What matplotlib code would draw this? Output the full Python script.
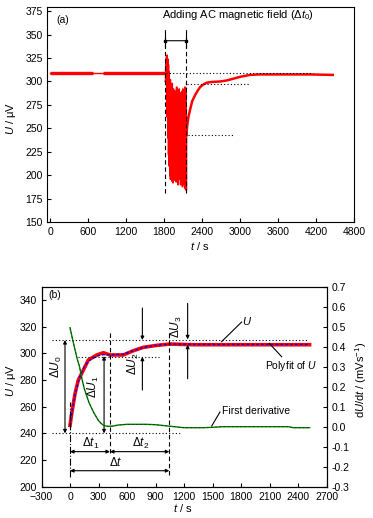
import matplotlib
matplotlib.use("Agg")
import matplotlib.pyplot as plt

plt.rcParams['font.family'] = ['Liberation Sans', 'DejaVu Sans']
plt.rcParams['mathtext.fontset'] = 'custom'
plt.rcParams['mathtext.rm'] = 'Liberation Sans'
plt.rcParams['mathtext.it'] = 'Liberation Sans:italic'
plt.rcParams['font.size'] = 7.5

## ---------------- panel (a) data ----------------
t_base = [0, 1817]
U_base = [309.5, 309.5]
noisy_spans = [(0, 680), (830, 1810)]

t_osc = [1817, 1825, 1835, 1845, 1855, 1865, 1875, 1885, 1895, 1905, 1915,
         1925, 1935, 1945, 1955, 1965, 1975, 1985, 1995, 2005, 2015, 2025,
         2035, 2045, 2055, 2065, 2075, 2085, 2095, 2105, 2115, 2125, 2135,
         2145, 2150]
U_osc_hi = [300, 322, 326, 328, 324, 318, 310, 300, 302, 296, 292, 298, 286,
            292, 284, 290, 282, 288, 294, 280, 290, 285, 292, 276, 288, 282,
            284, 290, 292, 288, 286, 294, 292, 293, 260]
U_osc_lo = [300, 300, 280, 262, 240, 222, 210, 200, 196, 200, 194, 205, 192,
            198, 195, 210, 200, 193, 205, 198, 190, 200, 196, 208, 190, 198,
            200, 188, 192, 200, 190, 186, 188, 184, 243]

t_rec = [2150, 2160, 2180, 2207, 2240, 2286, 2330, 2365, 2420, 2470, 2550,
         2680, 2780, 2890, 3000, 3153, 3300, 3500, 3800, 4100, 4460]
U_rec = [243, 252, 262, 270, 279, 285.5, 290.5, 294, 297, 298.7, 299.5,
         300, 301, 303, 305, 307, 307.5, 307.5, 307.5, 307.5, 307]

## ---------------- panel (b) data ----------------
t_U = [0, 18, 53, 87, 140, 192, 281, 350, 420, 560, 666, 770, 910, 1050,
       1300, 1600, 2000, 2300, 2520]
U_b = [246, 255, 270, 280, 287.5, 295, 298.8, 300.5, 298.8, 298.8, 302,
       304.5, 306, 307, 306.5, 306.5, 306.5, 306.5, 306.5]

t_fit = [0, 25, 50, 100, 150, 200, 280, 350, 450, 560, 666, 770, 910, 1050,
         1300, 1600, 2000, 2520]
U_fit = [246, 258, 268, 282, 290, 294.5, 298, 299, 299, 299.5, 302, 304.5,
         306, 307, 306.8, 306.7, 306.7, 306.7]

t_der = [0, 25, 50, 75, 100, 125, 150, 175, 200, 225, 250, 275, 300, 330,
         360, 400, 450, 500, 600, 700, 800, 900, 1000, 1100, 1200, 1400,
         1500, 1600, 2000, 2300, 2350, 2520]
dUdt = [0.495, 0.44, 0.39, 0.34, 0.30, 0.24, 0.19, 0.155, 0.12, 0.095, 0.07,
        0.05, 0.03, 0.015, 0.005, 0.002, 0.003, 0.008, 0.012, 0.012, 0.012,
        0.01, 0.005, 0.0, -0.005, -0.005, -0.003, 0.0, 0.0, 0.0, -0.005,
        -0.005]

dotted = (0, (1, 2))
dashed = (0, (4, 2.5))


def arrow(ax, x0, y0, x1, y1, style='-|>'):
    ax.annotate('', xy=(x1, y1), xytext=(x0, y0),
                arrowprops=dict(arrowstyle=style, color='k', lw=0.8,
                                mutation_scale=5, shrinkA=0, shrinkB=0))


fig = plt.figure(figsize=(3.73, 5.18), dpi=100)

## ================= panel (a) =================
ax = fig.add_axes([0.1273, 0.5708, 0.8225, 0.4151])

ax.plot(t_base, U_base, color='red', lw=1.0)
for a, b in noisy_spans:
    ax.plot([a, b], [U_base[0], U_base[0]], color='red', lw=2.4,
            solid_capstyle='butt')

# oscillation while the AC field is on: zig-zag between read envelopes
t_zig = []
U_zig = []
for t, hi, lo in zip(t_osc, U_osc_hi, U_osc_lo):
    t_zig += [t, t + 2.5]
    U_zig += [hi, lo]
ax.plot(t_zig, U_zig, color='red', lw=1.2)
ax.plot(t_rec, U_rec, color='red', lw=1.8)

ax.plot([1817, 1817], [181, 356.6], color='k', ls=dashed, lw=0.8)
ax.plot([2149, 2149], [181, 356.6], color='k', ls=dashed, lw=0.8)
arrow(ax, 1817, 343.4, 2149, 343.4, '|-|')
ax.plot([1817, 2149], [343.4, 343.4], 's', color='k', ms=2)
ax.plot([1820, 4150], [309.5, 309.5], color='k', ls=dotted, lw=0.8)
ax.plot([2155, 3145], [297, 297], color='k', ls=dotted, lw=0.8)
ax.plot([2175, 2907], [242.6, 242.6], color='k', ls=dotted, lw=0.8)

ax.text(90, 366, '(a)', ha='left', va='center')
ax.text(1765, 371, r'Adding AC magnetic field ($\Delta t_0$)', ha='left',
        va='center', fontsize=8)

ax.set_xlim(-45, 4800)
ax.set_ylim(150, 379)
ax.set_xticks(range(0, 4801, 600))
ax.set_yticks(range(150, 376, 25))
ax.tick_params(direction='in', length=3, width=0.8)
for s in ax.spines.values():
    s.set_linewidth(0.8)

fig.text(200 / 373, 1 - 246 / 518, r'$t$ / s', ha='center', va='center',
         fontsize=8)
fig.text(11 / 373, 1 - 118 / 518, r'$U$ / μV', ha='center', va='center',
         rotation=90, fontsize=8)

## ================= panel (b) =================
ax = fig.add_axes([0.1113, 0.0604, 0.7646, 0.3861])
ax2 = ax.twinx()

ax.plot(t_U, U_b, color='red', lw=2.6)
ax.plot(t_fit, U_fit, color='blue', lw=1.0, ls=(0, (2, 1.5)))

ax2.plot(t_der, dUdt, color='green', lw=1.0)
ax2.plot(t_der, dUdt, color='k', lw=0.5, ls=(0, (3, 3)), alpha=0.6)

ax.plot([-190, 2500], [310, 310], color='k', ls=dotted, lw=0.8)
ax.plot([88, 939], [297.5, 297.5], color='k', ls=dotted, lw=0.8)
ax.plot([-193, 1175], [240, 240], color='k', ls=dotted, lw=0.8)

ax.plot([0, 0], [207.5, 263.7], color='k', ls='-.', lw=0.8)
ax.plot([420, 420], [225, 316], color='k', ls=dashed, lw=0.8)
ax.plot([1044, 1044], [208.8, 316], color='k', ls=dashed, lw=0.8)

arrow(ax, -53, 240, -53, 310, '<|-|>')
arrow(ax, 358, 240, 358, 298, '<|-|>')
arrow(ax, 761, 334, 761, 310)
arrow(ax, 761, 272.5, 761, 297.5)
arrow(ax, 1237, 337.5, 1237, 310.5)
arrow(ax, 1237, 281, 1237, 306.5)
arrow(ax, 0, 226.3, 420, 226.3, '<|-|>')
arrow(ax, 420, 226.3, 1044, 226.3, '<|-|>')
arrow(ax, 0, 212, 1044, 212, '<|-|>')

ax.plot([1805, 1594], [323.5, 308.8], color='k', lw=0.8)
ax.plot([2226, 2096], [297.5, 307.5], color='k', lw=0.8)
ax.plot([1577, 1490], [256, 245.5], color='k', lw=0.8)

ax.text(-228, 343.8, '(b)', ha='left', va='center')
ax.text(-140, 290, r'$\Delta U_0$', rotation=90, ha='center', va='center',
        fontsize=8.5)
ax.text(245, 275, r'$\Delta U_1$', rotation=90, ha='center', va='center',
        fontsize=8.5)
ax.text(666, 292, r'$\Delta U_2$', rotation=90, ha='center', va='center',
        fontsize=8.5)
ax.text(1122, 320, r'$\Delta U_3$', rotation=90, ha='center', va='center',
        fontsize=8.5)
ax.text(218, 232.5, r'$\Delta t_1$', ha='center', va='center', fontsize=8.5)
ax.text(743, 232.5, r'$\Delta t_2$', ha='center', va='center', fontsize=8.5)
ax.text(480, 218.3, r'$\Delta t$', ha='center', va='center', fontsize=8.5)
ax.text(1860, 324, r'$U$', ha='center', va='center', fontsize=8)
ax.text(2330, 290.5, r'Polyfit of $U$', ha='center', va='center')
ax.text(1595, 257, 'First derivative', ha='left', va='center')

ax.set_xlim(-300, 2700)
ax.set_ylim(200, 350)
ax.set_xticks(range(-300, 2701, 300))
ax.set_yticks(range(200, 341, 20))
ax.tick_params(direction='in', length=3, width=0.8, right=False)
ax2.set_ylim(-0.3, 0.7)
ax2.set_yticks([x / 10 for x in range(-3, 8)])
ax2.set_yticklabels(['%.1f' % (x / 10) for x in range(-3, 8)])
ax2.tick_params(direction='in', length=3, width=0.8)
for s in list(ax.spines.values()) + list(ax2.spines.values()):
    s.set_linewidth(0.8)

fig.text(183 / 373, 1 - 508 / 518, r'$t$ / s', ha='center', va='center',
         fontsize=8)
fig.text(11 / 373, 1 - 380 / 518, r'$U$ / μV', ha='center', va='center',
         rotation=90, fontsize=8)
fig.text(361 / 373, 1 - 380 / 518, r'd$U$/d$t$ / (mVs$^{-1}$)', ha='center',
         va='center', rotation=90, fontsize=8)

fig.savefig("out.png", dpi=100)
